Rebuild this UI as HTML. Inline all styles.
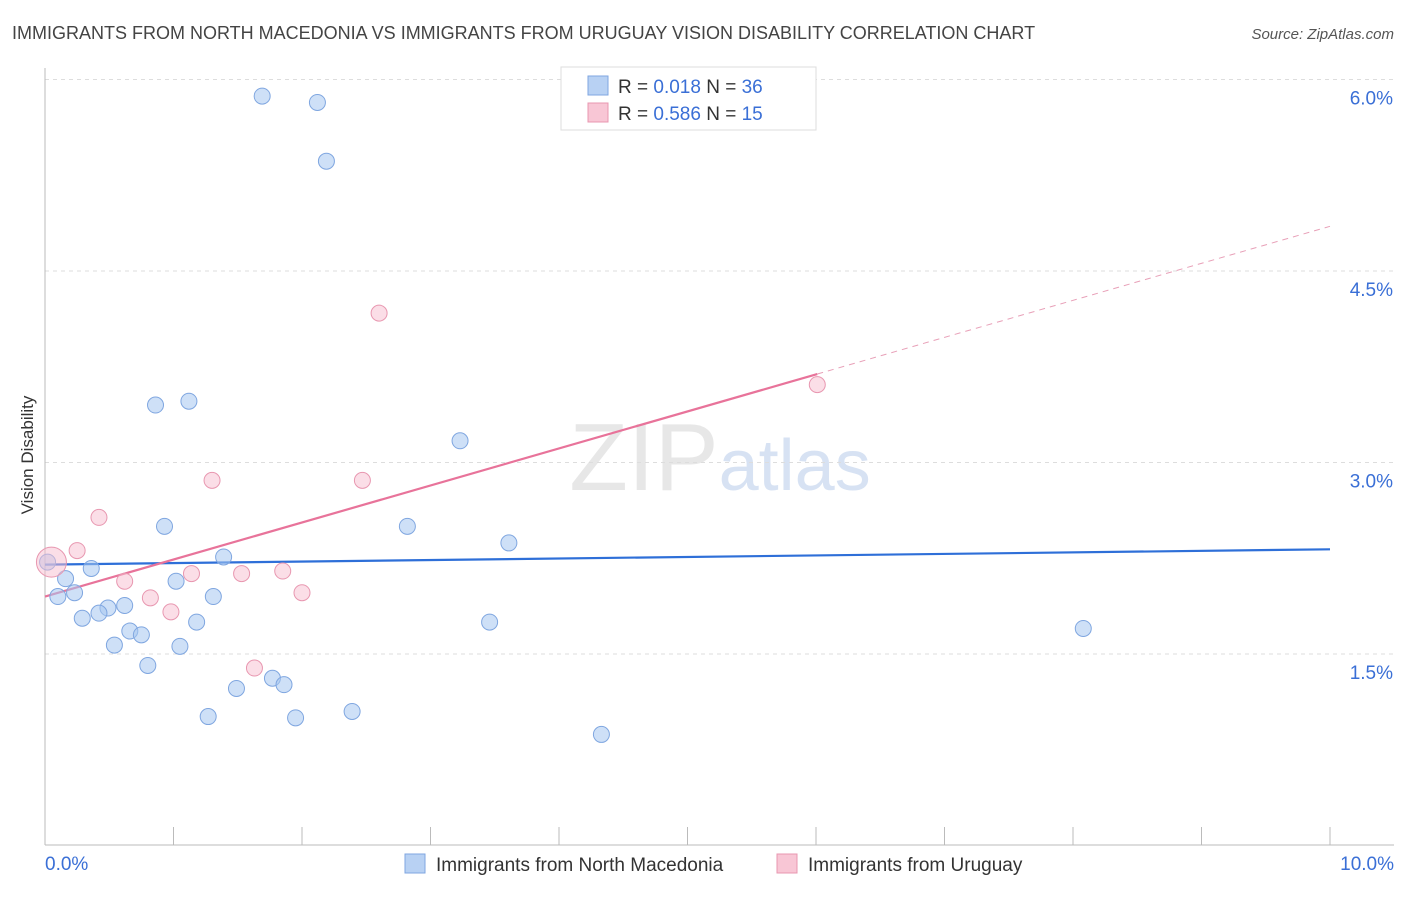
<!DOCTYPE html>
<html><head><meta charset="utf-8"><style>
body{margin:0;background:#fff;font-family:"Liberation Sans",sans-serif;}
svg text{font-family:"Liberation Sans",sans-serif;}
</style></head><body>
<svg id="chart" width="1406" height="892" viewBox="0 0 1406 892" xmlns="http://www.w3.org/2000/svg">
<text x="12" y="39" font-size="18" fill="#444">IMMIGRANTS FROM NORTH MACEDONIA VS IMMIGRANTS FROM URUGUAY VISION DISABILITY CORRELATION CHART</text>
<text x="1394" y="39" font-size="15" fill="#555" text-anchor="end" font-style="italic">Source: ZipAtlas.com</text>
<text x="720" y="490" font-size="96" text-anchor="middle" fill="#ddd" font-family="Liberation Serif" opacity="0.7">ZIP<tspan fill="#c7d7ef" font-family="Liberation Sans" font-size="72">atlas</tspan></text>
<text transform="translate(33,455) rotate(-90)" font-size="17" fill="#333" text-anchor="middle">Vision Disability</text>
<g id="grid"></g><g id="axes"></g><g id="lines"></g><g id="points"></g>
<g>
<rect x="561" y="67" width="255" height="63" fill="#fff" stroke="#ddd"/>
<rect x="588" y="76" width="20" height="19" fill="#b8d1f3" stroke="#7fa6e0"/>
<rect x="588" y="103" width="20" height="19" fill="#f8c6d5" stroke="#e897b0"/>
<text x="618" y="93" font-size="19" fill="#333">R = <tspan fill="#3a6fd6">0.018</tspan>    N = <tspan fill="#3a6fd6">36</tspan></text>
<text x="618" y="120" font-size="19" fill="#333">R = <tspan fill="#3a6fd6">0.586</tspan>    N = <tspan fill="#3a6fd6">15</tspan></text>
</g>
<g>
<rect x="405" y="854" width="20" height="19" fill="#b8d1f3" stroke="#7fa6e0"/>
<text x="436" y="871" font-size="19" fill="#333">Immigrants from North Macedonia</text>
<rect x="777" y="854" width="20" height="19" fill="#f8c6d5" stroke="#e897b0"/>
<text x="808" y="871" font-size="19" fill="#333">Immigrants from Uruguay</text>
</g>
</svg>
<script>
const blueX=[1.69,2.12,2.19,0.86,1.12,3.23,0.93,2.82,3.61,0.02,0.36,0.16,1.02,1.39,0.23,0.10,1.31,0.62,0.49,0.42,0.29,1.18,3.46,0.66,0.75,0.54,1.05,0.80,1.77,1.86,1.49,1.27,1.95,2.39,4.33,8.08];
const blueY=[5.87,5.82,5.36,3.45,3.48,3.17,2.50,2.50,2.37,2.22,2.17,2.09,2.07,2.26,1.98,1.95,1.95,1.88,1.86,1.82,1.78,1.75,1.75,1.68,1.65,1.57,1.56,1.41,1.31,1.26,1.23,1.01,1.00,1.05,0.87,1.70];
const pinkX=[2.60,6.01,1.30,2.47,0.42,0.25,0.05,0.62,1.14,1.53,1.85,0.82,0.98,2.00,1.63];
const pinkY=[4.17,3.61,2.86,2.86,2.57,2.31,2.22,2.07,2.13,2.13,2.15,1.94,1.83,1.98,1.39];
const blueTrend=[2.20,2.32];
const pinkTrend=[1.95,0.29];
const yTicks=[1.5,3.0,4.5,6.0];
const yTickLabels=["1.5%","3.0%","4.5%","6.0%"];
const xTicks=[0,1,2,3,4,5,6,7,8,9,10];
const NS="http://www.w3.org/2000/svg";
const sx=v=>45+v*128.5;
const sy=v=>654-(v-1.5)*127.67;
function mk(tag,attrs,parent){const e=document.createElementNS(NS,tag);for(const k in attrs)e.setAttribute(k,attrs[k]);document.getElementById(parent).appendChild(e);return e;}
yTicks.forEach((t,i)=>{
 const g=mk('line',{x1:45,x2:1394,y1:sy(t),y2:sy(t),stroke:'#ddd','stroke-dasharray':'4,4'},'grid');
 
 
 const l=mk('text',{x:1393,y:sy(t)+25,'font-size':19,fill:'#3a6fd6','text-anchor':'end'},'axes');
 l.textContent=yTickLabels[i];
 
 
});
const ax=mk('line',{x1:45,x2:45,y1:68,y2:845,stroke:'#bbb'},'axes');


const bx=mk('line',{x1:45,x2:1394,y1:845,y2:845,stroke:'#bbb'},'axes');


xTicks.forEach(t=>{
 const k=mk('line',{x1:sx(t),x2:sx(t),y1:827,y2:845,stroke:'#bbb'},'axes');
 
 
});
const x0=mk('text',{x:45,y:870,'font-size':19,fill:'#3a6fd6'},'axes');x0.textContent='0.0%';


const x1=mk('text',{x:1394,y:870,'font-size':19,fill:'#3a6fd6','text-anchor':'end'},'axes');x1.textContent='10.0%';


const bl=mk('line',{x1:sx(0),y1:sy(blueTrend[0]),x2:sx(10),y2:sy(blueTrend[1]),stroke:'#2e6fd8','stroke-width':2.2},'lines');


const pxEnd=Math.max(...pinkX);
const pl=mk('line',{x1:sx(0),y1:sy(pinkTrend[0]),x2:sx(pxEnd),y2:sy(pinkTrend[0]+pinkTrend[1]*pxEnd),stroke:'#e8739a','stroke-width':2.2},'lines');


const pd=mk('line',{x1:sx(pxEnd),y1:sy(pinkTrend[0]+pinkTrend[1]*pxEnd),x2:sx(10),y2:sy(pinkTrend[0]+pinkTrend[1]*10),stroke:'#e8a0b8','stroke-width':1,'stroke-dasharray':'6,5'},'lines');


blueX.forEach((v,i)=>{
 const c=mk('circle',{cx:sx(v),cy:sy(blueY[i]),r:8,fill:'rgba(165,198,240,0.55)',stroke:'#7fa6e0','stroke-width':1},'points');
 
 
});
pinkX.forEach((v,i)=>{
 const c=mk('circle',{cx:sx(v),cy:sy(pinkY[i]),r:i===6?15:8,fill:'rgba(248,190,208,0.5)',stroke:'#e897b0','stroke-width':1},'points');
 
 
});
</script>
</body></html>
